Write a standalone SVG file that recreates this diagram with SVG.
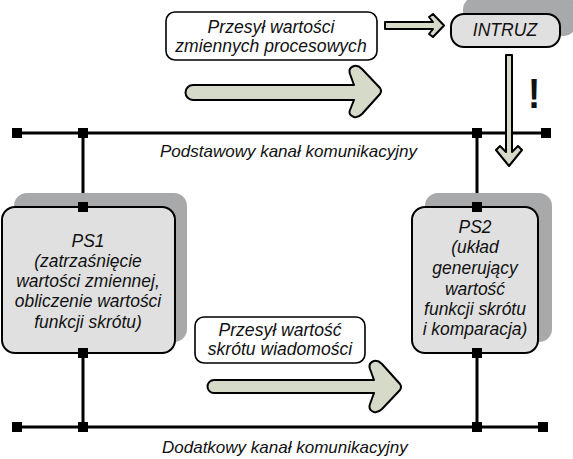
<svg xmlns="http://www.w3.org/2000/svg" width="573" height="459" viewBox="0 0 573 459">
<style>
text{font-family:"Liberation Sans",Arial,sans-serif;font-style:italic;fill:#111}
.lbl{font-size:18.5px;text-anchor:middle}
.ps{font-size:18px;text-anchor:middle}
.ch{font-size:17px}
.wire{stroke:#000;stroke-width:3;fill:none}
.sq{fill:#000}
.shadow{fill:#a7a9aa}
.node{fill:#e0e0e0;stroke:#000;stroke-width:2}
.note{fill:#fff;stroke:#000;stroke-width:1.6}
.arr{fill:#d6dbc9;stroke:#000;stroke-width:2;stroke-linejoin:round}
</style>
<rect width="573" height="459" fill="#fff"/>

<g id="connectors">
  <line class="wire" x1="17" y1="133" x2="546" y2="133"/>
  <line class="wire" x1="17" y1="427" x2="543" y2="427"/>
  <line class="wire" x1="83" y1="133" x2="83" y2="207"/>
  <line class="wire" x1="477" y1="133" x2="477" y2="207"/>
  <line class="wire" x1="83" y1="353" x2="83" y2="427"/>
  <line class="wire" x1="477" y1="353" x2="477" y2="427"/>
  <rect class="sq" x="12" y="128" width="10" height="10"/>
  <rect class="sq" x="78" y="128" width="10" height="10"/>
  <rect class="sq" x="472" y="128" width="10" height="10"/>
  <rect class="sq" x="541" y="128" width="10" height="10"/>
  <rect class="sq" x="12" y="422" width="10" height="10"/>
  <rect class="sq" x="78" y="422" width="10" height="10"/>
  <rect class="sq" x="472" y="422" width="10" height="10"/>
  <rect class="sq" x="538" y="422" width="10" height="10"/>
</g>

<g id="channel-labels">
  <text class="ch" x="160" y="157">Podstawowy kanał komunikacyjny</text>
  <text class="ch" x="162" y="453">Dodatkowy kanał komunikacyjny</text>
</g>

<g id="ps1">
  <rect class="shadow" x="14" y="193" width="173" height="149" rx="13"/>
  <rect class="node" x="2" y="207" width="173" height="146" rx="13"/>
  <rect class="sq" x="78" y="202" width="10" height="10"/>
  <rect class="sq" x="78" y="348" width="10" height="10"/>
  <g transform="translate(88,0) scale(0.97,1)">
    <text class="ps" x="0" y="247">PS1</text>
    <text class="ps" x="0" y="267">(zatrzaśnięcie</text>
    <text class="ps" x="0" y="287">wartości zmiennej,</text>
    <text class="ps" x="0" y="307">obliczenie wartości</text>
    <text class="ps" x="0" y="328">funkcji skrótu)</text>
  </g>
</g>

<g id="ps2">
  <rect class="shadow" x="425" y="193" width="127" height="149" rx="13"/>
  <rect class="node" x="412" y="207" width="126" height="146" rx="13"/>
  <rect class="sq" x="472" y="202" width="10" height="10"/>
  <rect class="sq" x="472" y="348" width="10" height="10"/>
  <g transform="translate(475,0) scale(0.97,1)">
    <text class="ps" x="0" y="233">PS2</text>
    <text class="ps" x="0" y="253">(układ</text>
    <text class="ps" x="0" y="274">generujący</text>
    <text class="ps" x="0" y="295">wartość</text>
    <text class="ps" x="0" y="315">funkcji skrótu</text>
    <text class="ps" x="0" y="335">i komparacja)</text>
  </g>
</g>

<g id="intruz">
  <rect class="shadow" x="463" y="-4" width="114" height="40" rx="14"/>
  <rect class="node" x="451" y="14" width="109" height="33" rx="13"/>
  <g transform="translate(505,0) scale(0.95,1)">
    <text class="lbl" x="0" y="36">INTRUZ</text>
  </g>
</g>

<g id="note-top">
  <rect class="note" x="166" y="12" width="211" height="48" rx="9"/>
  <g transform="translate(271,0) scale(0.95,1)">
    <text class="lbl" x="0" y="33">Przesył wartości</text>
    <text class="lbl" x="0" y="52">zmiennych procesowych</text>
  </g>
</g>

<g id="note-bottom">
  <rect class="note" x="195" y="317" width="170" height="46" rx="9"/>
  <g transform="translate(280,0) scale(0.95,1)">
    <text class="lbl" x="0" y="336">Przesył wartość</text>
    <text class="lbl" x="0" y="355">skrótu wiadomości</text>
  </g>
</g>

<g id="arrows">
  <path class="arr" d="M193,85 H354 L350,74 Q348,68 354,66 Q358,65 362,69 L380,88 Q382,91 380,94 L362,114 Q358,118 354,117 Q348,115 350,110 L354,100 H193 A7.5,7.5 0 0 1 193,85 Z"/>
  <path class="arr" d="M214,380 H374 L370,369 Q368,363 374,361 Q378,360 382,364 L400,384 Q402,387 400,390 L382,409 Q378,413 374,412 Q368,410 370,404 L374,393 H214 A6.5,6.5 0 0 1 214,380 Z"/>
  <path class="arr" d="M385,22 H433 L429,17 L433,14 L444,25.5 L433,37 L429,34 L433,29 H385 Z" stroke-width="1.8"/>
  <path class="arr" d="M506,55 H512 V152 L518,146 L522,150 L509,166 L496,150 L500,146 L506,152 Z" stroke-width="1.8"/>
  <g transform="translate(534,0) scale(0.85,1)">
    <text x="0" y="108" style="font-size:43px;font-weight:bold;font-style:normal;text-anchor:middle">!</text>
  </g>
</g>
</svg>
